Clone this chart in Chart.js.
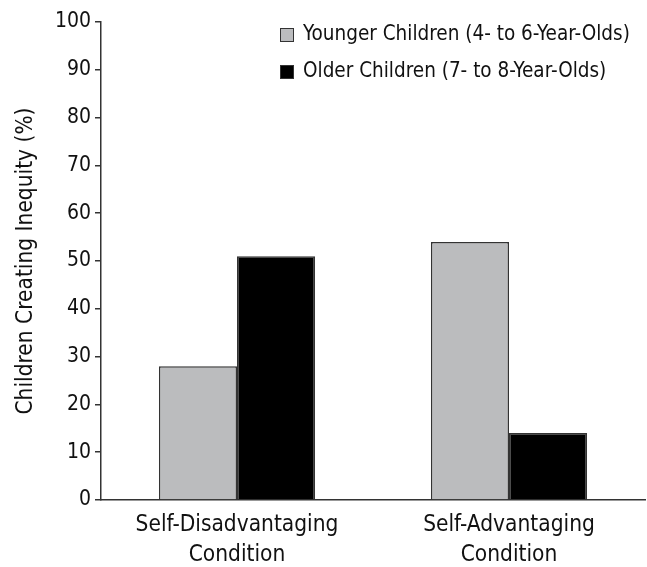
<!DOCTYPE html>
<html>
<head>
<meta charset="utf-8">
<script src="https://cdn.jsdelivr.net/npm/chart.js@4.4.0/dist/chart.umd.min.js"></script>
<style>
html,body{margin:0;padding:0;background:#fff;}
#wrap{width:647px;height:567px;}
</style>
</head>
<body>
<div id="wrap"><canvas id="c"></canvas></div>
<script>
const categories = [["Self-Disadvantaging","Condition"],["Self-Advantaging","Condition"]];
const seriesNames = ["Younger Children (4- to 6-Year-Olds)","Older Children (7- to 8-Year-Olds)"];
const youngerValues = [28, 54];
const olderValues = [51, 14];
const yTicks = [0,10,20,30,40,50,60,70,80,90,100];
const yTitle = "Children Creating Inequity (%)";

const FONT = "'Liberation Sans Narrow','DejaVu Sans Condensed','Liberation Sans',sans-serif";

const legendPlugin = {
  id: 'customLegend',
  afterDraw(chart) {
    const ctx = chart.ctx;
    ctx.save();
    ctx.font = "20.5px " + FONT;
    ctx.textBaseline = 'middle';
    chart.data.datasets.forEach((ds, i) => {
      const y = 35 + i * 37;
      ctx.fillStyle = ds.backgroundColor;
      ctx.fillRect(280, y - 7, 14, 14);
      ctx.strokeStyle = '#333';
      ctx.lineWidth = 1;
      ctx.strokeRect(280.5, y - 6.5, 13, 13);
      ctx.fillStyle = '#111';
      ctx.fillText(ds.label, 303, y);
    });
    ctx.restore();
  }
};

new Chart(document.getElementById('c'), {
  type: 'bar',
  data: {
    labels: categories,
    datasets: [
      { label: seriesNames[0], data: youngerValues, backgroundColor: '#bbbcbe', borderColor: '#333', borderWidth: 1.5, borderSkipped: 'bottom' },
      { label: seriesNames[1], data: olderValues, backgroundColor: '#000000', borderColor: '#333', borderWidth: 1.5, borderSkipped: 'bottom' }
    ]
  },
  options: {
    responsive: true,
    maintainAspectRatio: false,
    animation: false,
    devicePixelRatio: 1,
    layout: { padding: { top: 22, right: 2, left: 0, bottom: 0 } },
    plugins: { legend: { display: false }, tooltip: { enabled: false } },
    datasets: { bar: { categoryPercentage: 0.574, barPercentage: 1.0 } },
    scales: {
      x: {
        grid: { drawOnChartArea: false, drawTicks: false },
        border: { display: true, color: '#333', width: 1.5 },
        ticks: { color: '#111', font: { family: FONT, size: 22.5, lineHeight: 1.33 }, padding: 10, maxRotation: 0, autoSkip: false },
        afterFit(s) { s.height = 67; }
      },
      y: {
        min: 0, max: 100,
        afterBuildTicks(s) { s.ticks = yTicks.map(v => ({ value: v })); },
        grid: { drawOnChartArea: false, drawTicks: true, tickLength: 6, color: '#333', lineWidth: 1.5 },
        border: { display: true, color: '#333', width: 1.5 },
        ticks: { color: '#111', font: { family: FONT, size: 21 }, padding: 4 },
        title: { display: true, text: yTitle, color: '#111', font: { family: FONT, size: 22.5 }, padding: { top: 13, bottom: 0 } },
        afterFit(s) { s.width = 101; }
      }
    }
  },
  plugins: [legendPlugin]
});
</script>
</body>
</html>
